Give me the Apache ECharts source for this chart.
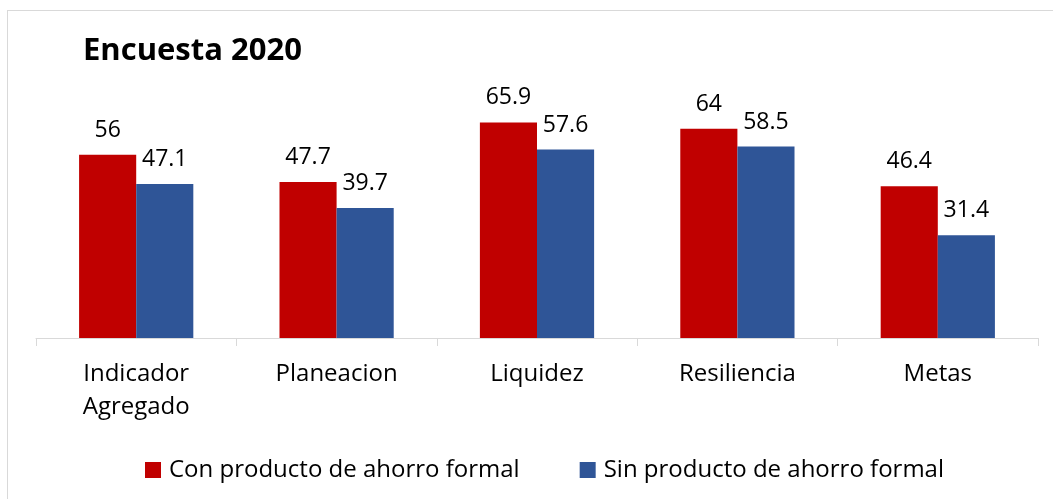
<!DOCTYPE html>
<html>
<head>
<meta charset="utf-8">
<script src="https://cdn.jsdelivr.net/npm/echarts@6/dist/echarts.min.js"></script>
<style>
  html, body { margin: 0; padding: 0; background: #fff; }
  #chart { width: 1053px; height: 499px; }
  #frame { position: absolute; left: 7px; top: 10px; width: 1060px; height: 500px; border: 1px solid #d9d9d9; box-sizing: border-box; pointer-events: none; }
</style>
</head>
<body>
<div id="chart"></div>
<div id="frame"></div>
<script>
// categorias y valores
var categorias = ['Indicador\nAgregado', 'Planeacion', 'Liquidez', 'Resiliencia', 'Metas'];
var conProducto = [56, 47.7, 65.9, 64, 46.4];
var sinProducto = [47.1, 39.7, 57.6, 58.5, 31.4];
var nombres = ['Con producto de ahorro formal', 'Sin producto de ahorro formal'];

var FONT = 'Open Sans';
var chart = echarts.init(document.getElementById('chart'));

var etiqueta = {
    show: true,
    position: 'top',
    distance: 13,
    color: '#000',
    fontFamily: FONT,
    fontSize: 23
};

chart.setOption({
    animation: false,
    title: {
        text: 'Encuesta 2020',
        left: 78,
        top: 31,
        textStyle: { fontFamily: FONT, fontSize: 31, fontWeight: 'bold', color: '#000' }
    },
    legend: {
        top: 453,
        left: 140,
        itemWidth: 16,
        itemHeight: 16,
        itemGap: 60,
        icon: 'rect',
        textStyle: { fontFamily: FONT, fontSize: 24, color: '#000', padding: [0, 0, 0, 3] },
        data: nombres
    },
    grid: { left: 36, right: 15, top: 109, bottom: 161 },
    xAxis: {
        type: 'category',
        data: categorias,
        axisLine: { lineStyle: { color: '#d9d9d9', width: 1 } },
        axisTick: { show: true, length: 8, lineStyle: { color: '#d9d9d9' } },
        axisLabel: { fontFamily: FONT, fontSize: 24, color: '#000', margin: 20, lineHeight: 33 }
    },
    yAxis: {
        type: 'value',
        min: 0,
        max: 70,
        show: false,
        splitLine: { show: false }
    },
    series: [
        {
            name: nombres[0],
            type: 'bar',
            data: conProducto,
            barWidth: '28.5%',
            barGap: '0%',
            itemStyle: { color: '#C00000' },
            label: etiqueta
        },
        {
            name: nombres[1],
            type: 'bar',
            data: sinProducto,
            barWidth: '28.5%',
            itemStyle: { color: '#2F5597' },
            label: etiqueta
        }
    ]
});
</script>
</body>
</html>
